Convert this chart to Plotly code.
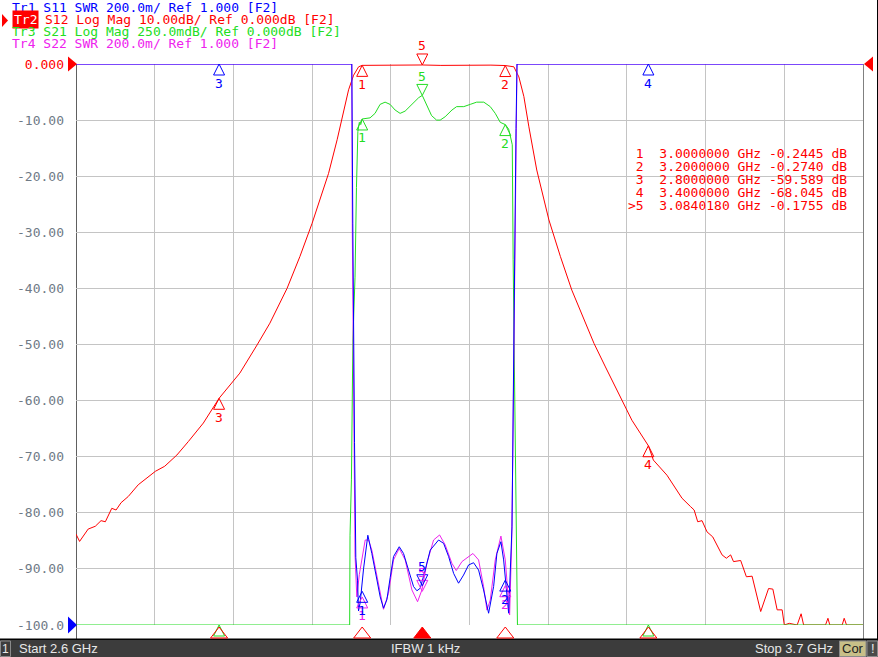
import plotly.graph_objects as go

# ---------------- data ----------------
# Tr2  S12 log mag (dB), 10 dB/div, ref 0 at top
f_s12 = [2.600, 2.602, 2.605, 2.617, 2.627, 2.635, 2.641, 2.650, 2.656, 2.663, 2.673, 2.687,
         2.711, 2.724, 2.741, 2.757, 2.778, 2.800, 2.829, 2.853, 2.871, 2.895, 2.913, 2.930,
         2.941, 2.953, 2.965, 2.974, 2.981, 2.988, 2.995, 3.000, 3.030, 3.060, 3.084018, 3.110,
         3.150, 3.180, 3.200, 3.202, 3.212, 3.219, 3.226, 3.233, 3.244, 3.261, 3.277, 3.293,
         3.310, 3.324, 3.340, 3.358, 3.377, 3.400, 3.407, 3.426, 3.438, 3.447, 3.459, 3.464,
         3.469, 3.475, 3.482, 3.490, 3.503, 3.509, 3.515, 3.519, 3.529, 3.537, 3.545, 3.557,
         3.568, 3.574, 3.580, 3.587, 3.590, 3.5969, 3.608, 3.6135, 3.617, 3.6476, 3.651, 3.6536,
         3.6709, 3.6737, 3.677, 3.700]
s12_db = [-83.8, -84.3, -85.1, -82.9, -82.4, -81.4, -81.6, -79.2, -79.5, -78.2, -77.1, -75.0,
          -72.6, -71.7, -69.7, -67.3, -64.0, -59.589, -55.1, -50.1, -46.2, -40.0, -34.3, -28.4,
          -24.2, -19.5, -13.5, -8.8, -4.6, -2.0, -0.5, -0.2445, -0.20, -0.22, -0.1755, -0.25,
          -0.19, -0.20, -0.274, -0.3, -0.5, -2.3, -5.8, -11.2, -18.9, -27.8, -34.3, -40.3,
          -45.6, -49.8, -54.0, -58.7, -63.5, -68.045, -70.6, -73.3, -75.6, -77.4, -78.9, -79.5,
          -81.6, -81.4, -83.4, -84.3, -87.5, -88.1, -87.5, -88.7, -88.5, -91.4, -91.3, -97.6,
          -93.5, -93.6, -97.3, -97.3, -100.0, -99.7, -100.0, -98.0, -100.0, -100.0, -98.8, -100.0,
          -100.0, -98.8, -100.0, -100.0]

# Tr3  S21 log mag (dB), 250 mdB/div, ref 0 at top (values below the -2.5 dB floor shown at the floor)
f_s21 = [2.600, 2.9825, 2.983, 2.985, 2.987, 2.990, 2.992, 2.994, 2.996, 2.998, 3.000, 3.011,
         3.018, 3.025, 3.032, 3.039, 3.046, 3.053, 3.060, 3.0695, 3.079, 3.084, 3.090, 3.097,
         3.104, 3.109, 3.116, 3.1255, 3.132, 3.142, 3.151, 3.160, 3.170, 3.179, 3.186, 3.193,
         3.200, 3.2047, 3.207, 3.2098, 3.211, 3.214, 3.217, 3.700]
s21_db = [-2.5, -2.5, -2.10, -1.85, -1.23, -0.95, -0.55, -0.30, -0.26, -0.27, -0.245, -0.24,
          -0.22, -0.18, -0.17, -0.18, -0.205, -0.22, -0.21, -0.18, -0.15, -0.14, -0.18, -0.23,
          -0.25, -0.25, -0.235, -0.205, -0.19, -0.19, -0.18, -0.17, -0.17, -0.19, -0.22, -0.26,
          -0.27, -0.29, -0.32, -0.36, -0.87, -1.63, -2.5, -2.5]

# Tr1  S11 SWR, 200m/div, ref 1.000 at bottom (values above 3.0 shown at the top)
f_s11 = [2.600, 2.9855, 2.9869, 2.9879, 2.9893, 2.9911, 2.9935, 2.9949, 2.9972, 3.0019, 3.0079,
         3.0135, 3.0205, 3.0252, 3.0298, 3.0345, 3.0392, 3.0438, 3.0518, 3.0578, 3.0648, 3.0718,
         3.0765, 3.0811, 3.0881, 3.0951, 3.1068, 3.1138, 3.1208, 3.1278, 3.1347, 3.1417, 3.1487,
         3.1557, 3.1627, 3.1697, 3.1767, 3.1837, 3.1883, 3.1939, 3.1977, 3.2047, 3.2094, 3.2102,
         3.2126, 3.2150, 3.2164, 3.700]
s11_swr = [3.0, 3.0, 2.43, 2.02, 1.65, 1.24, 1.16, 1.05, 1.08, 1.20, 1.32,
           1.255, 1.16, 1.10, 1.06, 1.09, 1.17, 1.244, 1.279, 1.255, 1.196, 1.137,
           1.122, 1.131, 1.196, 1.267, 1.303, 1.291, 1.244, 1.184, 1.149, 1.178, 1.214,
           1.222, 1.196, 1.125, 1.042, 1.137, 1.255, 1.297, 1.232, 1.042, 1.35, 1.59,
           2.06, 2.77, 3.0, 3.0]

# Tr4  S22 SWR, 200m/div, ref 1.000 at bottom
f_s22 = [2.600, 2.9855, 2.9862, 2.9872, 2.9885, 2.9900, 2.9925, 2.9960, 3.0042, 3.0089, 3.0135,
         3.0205, 3.0298, 3.0368, 3.0438, 3.0518, 3.0601, 3.0695, 3.0774, 3.0835, 3.0904, 3.0998,
         3.1082, 3.1161, 3.1254, 3.1315, 3.1394, 3.1548, 3.1627, 3.1697, 3.1744, 3.1790, 3.1860,
         3.1939, 3.2000, 3.2061, 3.2090, 3.2105, 3.2125, 3.2150, 3.2164, 3.700]
s22_swr = [3.0, 3.0, 2.40, 2.00, 1.62, 1.25, 1.10, 1.18, 1.303, 1.303, 1.267,
           1.172, 1.056, 1.113, 1.232, 1.273, 1.232, 1.125, 1.083, 1.125, 1.220, 1.303,
           1.321, 1.285, 1.220, 1.194, 1.226, 1.255, 1.232, 1.137, 1.053, 1.089, 1.232,
           1.317, 1.232, 1.036, 1.30, 1.60, 2.05, 2.77, 3.0, 3.0]

# markers
mk_num = ["1", "2", "3", "4", "5"]
mk_freq = [3.0, 3.2, 2.8, 3.4, 3.084018]
mk_active = 4  # index of marker 5 (active)
s12_mk_db = [-0.2445, -0.2740, -59.589, -68.045, -0.1755]
s21_mk_db = [-0.245, -0.27, -2.5, -2.5, -0.14]
s11_mk_swr = [1.12, 1.16, 3.0, 3.0, 1.14]
s22_mk_swr = [1.10, 1.14, 3.0, 3.0, 1.12]

# axis ticks
y_ticks = [0, -10, -20, -30, -40, -50, -60, -70, -80, -90, -100]
y_ticklabels = ["0.000", "-10.00", "-20.00", "-30.00", "-40.00", "-50.00", "-60.00",
                "-70.00", "-80.00", "-90.00", "-100.0"]

header_lines = ["Tr1 S11 SWR 200.0m/ Ref 1.000 [F2]",
                "Tr2 S12 Log Mag 10.00dB/ Ref 0.000dB [F2]",
                "Tr3 S21 Log Mag 250.0mdB/ Ref 0.000dB [F2]",
                "Tr4 S22 SWR 200.0m/ Ref 1.000 [F2]"]

# ---------------- style ----------------
W, H = 878, 657
L, R, T, B = 76, 15, 64, 32
PW, PH = W - L - R, H - T - B
BLUE, RED, GREEN, MAG = "#0000ff", "#ff0000", "#22dd22", "#ee22ee"
MONO = "DejaVu Sans Mono"


def px(x):
    return (x - L) / PW


def py(y):
    return (T + PH - y) / PH


fig = go.Figure()

traces = [
    (f_s21, s21_db, "y2", GREEN),
    (f_s22, s22_swr, "y3", MAG),
    (f_s11, s11_swr, "y3", BLUE),
    (f_s12, s12_db, "y", RED),
]
for fx, vy, ax, col in traces:
    fig.add_trace(go.Scatter(x=fx, y=vy, yaxis=ax, mode="lines",
                             line=dict(color=col, width=1), cliponaxis=False,
                             hoverinfo="skip", showlegend=False))

annotations = []
mk_sets = [
    (s22_mk_swr, "y3", MAG, [0, 1, 4]),
    (s11_mk_swr, "y3", BLUE, [0, 1, 2, 3, 4]),
    (s21_mk_db, "y2", GREEN, [0, 1, 2, 3, 4]),
    (s12_mk_db, "y", RED, [0, 1, 2, 3, 4]),
]
for vals, ax, col, idxs in mk_sets:
    xs = [mk_freq[i] for i in idxs]
    ys = [vals[i] for i in idxs]
    syms = ["arrow-down-open" if i == mk_active else "arrow-up-open" for i in idxs]
    fig.add_trace(go.Scatter(x=xs, y=ys, yaxis=ax, mode="markers",
                             marker=dict(symbol=syms, size=11, color=col,
                                         line=dict(width=1, color=col)),
                             cliponaxis=False, hoverinfo="skip", showlegend=False))
    for i in idxs:
        if ax == "y2" and vals[i] <= -2.5:
            continue
        annotations.append(dict(x=mk_freq[i], y=vals[i], xref="x", yref=ax,
                                text=mk_num[i], showarrow=False,
                                yshift=19 if i == mk_active else -19,
                                font=dict(family=MONO, size=13, color=col)))

# header
hy = [7, 19.5, 31.5, 43]
hcol = [BLUE, RED, GREEN, MAG]
for k, line in enumerate(header_lines):
    if k == 1:
        annotations.append(dict(x=px(12), y=py(hy[k]), xref="paper", yref="paper",
                                text="Tr2", showarrow=False, xanchor="left", yanchor="middle",
                                bgcolor=RED, borderpad=1,
                                font=dict(family=MONO, size=13, color="white")))
        annotations.append(dict(x=px(12 + 4 * 7.85), y=py(hy[k]), xref="paper", yref="paper",
                                text=line[4:].replace(" ", "\u00a0"), showarrow=False,
                                xanchor="left", yanchor="middle",
                                font=dict(family=MONO, size=13, color=RED)))
    else:
        annotations.append(dict(x=px(10), y=py(hy[k]), xref="paper", yref="paper",
                                text=line.replace(" ", "\u00a0"), showarrow=False,
                                xanchor="left", yanchor="middle",
                                font=dict(family=MONO, size=13, color=hcol[k])))

# marker table
for r, i in enumerate([0, 1, 2, 3, 4]):
    v = s12_mk_db[i]
    vtxt = f"{v:.3f}" if abs(v) >= 10 else f"{v:.4f}"
    pre = ">" if i == mk_active else " "
    txt = f"{pre}{mk_num[i]}  {mk_freq[i]:.7f} GHz {vtxt} dB"
    annotations.append(dict(x=px(626), y=py(153 + r * 13.1), xref="paper", yref="paper",
                            text=txt.replace(" ", "\u00a0"), showarrow=False,
                            xanchor="left", yanchor="middle",
                            font=dict(family=MONO, size=13, color=RED)))

# status bar texts
bar_y = py(648.5)
BARF = "Liberation Sans"
annotations += [
    dict(x=px(5.5), y=bar_y, text="1", xanchor="center",
         font=dict(family=BARF, size=12, color="#e8e8e8")),
    dict(x=px(17), y=bar_y, text="Start 2.6 GHz", xanchor="left",
         font=dict(family=BARF, size=13, color="#e8e8e8")),
    dict(x=px(425), y=bar_y, text="IFBW 1 kHz", xanchor="center",
         font=dict(family=BARF, size=13, color="#e8e8e8")),
    dict(x=px(835), y=bar_y, text="Stop 3.7 GHz", xanchor="right",
         font=dict(family=BARF, size=13, color="#e8e8e8")),
    dict(x=px(853), y=bar_y, text="Cor", xanchor="center",
         font=dict(family=BARF, size=13, color="#202020")),
    dict(x=px(872.5), y=bar_y, text="!", xanchor="center",
         font=dict(family=BARF, size=13, color="#e8e8e8")),
]
for a in annotations[-6:]:
    a.update(xref="paper", yref="paper", showarrow=False, yanchor="middle")


def tri(points, color, layer="above"):
    d = "M " + " L ".join(f"{px(a)},{py(b)}" for a, b in points) + " Z"
    return dict(type="path", path=d, xref="paper", yref="paper", fillcolor=color,
                line=dict(width=0), layer=layer)


def rect(x0, y0, x1, y1, fill, line=None, layer="above"):
    return dict(type="rect", xref="paper", yref="paper", x0=px(x0), x1=px(x1), y0=py(y1), y1=py(y0),
                fillcolor=fill, line=dict(width=1 if line else 0, color=line or fill), layer=layer)


def vline(x, y0, y1, color, layer="below"):
    return dict(type="line", xref="paper", yref="paper", x0=px(x), x1=px(x), y0=py(y0), y1=py(y1),
                line=dict(color=color, width=1), layer=layer)


shapes = [
    vline(76.5, 64, 639, "#606060"),
    vline(863.5, 64, 639, "#808080"),
    vline(877.5, 0, 640, "#000000", "above"),
    rect(0, 638.5, 878, 640, "#000000"),
    rect(0, 640, 878, 657, "#3c3c3c"),
    rect(0.5, 641, 10.5, 656.5, "#3c3c3c", "#8a8a8a"),
    rect(839.5, 641, 866, 656.5, "#c8bf88", "#8a8a8a"),
    rect(867, 641, 877.5, 656.5, "#4a4a4a", "#8a8a8a"),
    tri([(68, 56.5), (77, 64), (68, 71.5)], RED),
    tri([(68, 616.5), (77, 625), (68, 633.5)], BLUE),
    tri([(873, 56.5), (864, 64), (873, 71.5)], RED),
    tri([(2, 14), (8, 20.5), (2, 27)], RED),
]

# stimulus indicators below the grid for the active trace's markers (x from the data axis)
for i, f in enumerate(mk_freq):
    active = i == mk_active
    shapes.append(dict(type="path", xref="x", yref="paper", xsizemode="pixel", ysizemode="pixel",
                       xanchor=f, yanchor=0, path="M -8.5,-13 L 0,-2 L 8.5,-13 Z",
                       fillcolor=RED if active else "rgba(0,0,0,0)",
                       line=dict(color=RED, width=1), layer="above"))

fig.update_layout(
    width=W, height=H,
    margin=dict(l=L, r=R, t=T, b=B, pad=0),
    paper_bgcolor="white", plot_bgcolor="white",
    showlegend=False,
    xaxis=dict(range=[2.6, 3.7], tick0=2.6, dtick=0.11, showgrid=True, gridcolor="#c4c4c4",
               gridwidth=1, showticklabels=False, zeroline=False, ticks="", showline=False,
               fixedrange=True),
    yaxis=dict(range=[-100, 0], tickvals=y_ticks,
               ticktext=[f'<span style="color:{RED}">{t}</span>' if i == 0 else t
                         for i, t in enumerate(y_ticklabels)],
               showgrid=True, gridcolor="#c4c4c4", gridwidth=1, zeroline=False, ticks="",
               showline=False, ticklabelstandoff=11,
               tickfont=dict(family=MONO, size=13, color="#6f7a86"), fixedrange=True),
    yaxis2=dict(range=[-2.5, 0], overlaying="y", visible=False, fixedrange=True),
    yaxis3=dict(range=[1, 3], overlaying="y", visible=False, fixedrange=True),
    annotations=annotations,
    shapes=shapes,
)

fig.write_html("out.html", config={"displayModeBar": False},
               post_script="document.body.style.margin='0';document.body.style.overflow='hidden';")
